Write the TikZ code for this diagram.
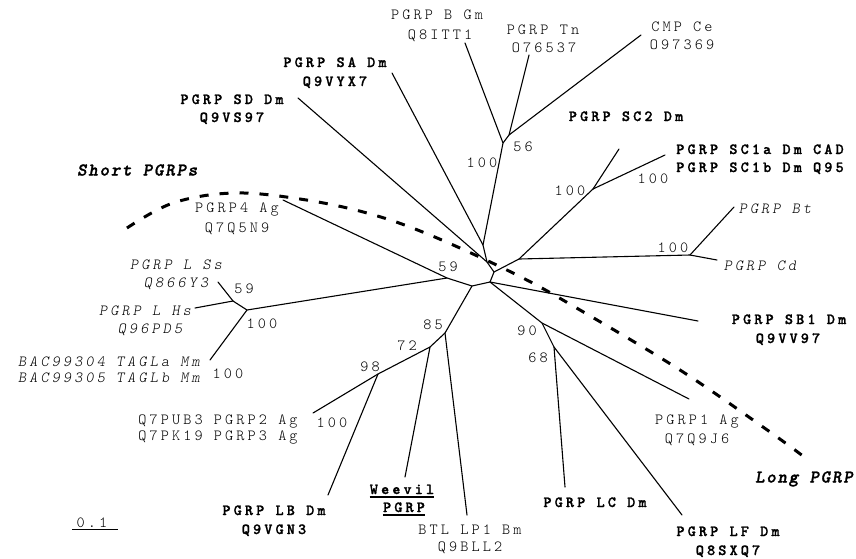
\documentclass[tikz,border=0pt]{standalone}
\usepackage{fontspec}
\newfontfamily\labfont{lmmonolt10}[Extension=.otf, UprightFont=*-regular, BoldFont=*-bold, ItalicFont=*-oblique, BoldItalicFont=*-boldoblique, BoldFeatures={FakeBold=1.2}, LetterSpace=20]
\newfontfamily\grpfont{lmmonolt10}[Extension=.otf, UprightFont=*-regular, BoldFont=*-bold, ItalicFont=*-oblique, BoldItalicFont=*-boldoblique, BoldItalicFeatures={FakeBold=1.5}, LetterSpace=10]
\tikzset{
  br/.style={line width=1.1pt, line cap=round, line join=round},
  lr/.style={anchor=base, inner sep=0pt, font=\labfont\fontsize{15.5}{17}\selectfont},
  lbold/.style={lr, font=\labfont\fontsize{15.5}{17}\selectfont\bfseries},
  lit/.style={lr, font=\labfont\fontsize{15.5}{17}\selectfont\itshape},
  grp/.style={inner sep=0pt, font=\grpfont\fontsize{18}{20}\selectfont\bfseries\itshape},
  sepline/.style={line width=3pt, dash pattern=on 9pt off 11pt},
  uline/.style={line width=1.2pt},
}
\begin{document}
\begin{tikzpicture}[x=1pt,y=-1pt]
\useasboundingbox (0,0) rectangle (856,558);
% leaf ends
\coordinate (lBGm) at (465,43);
\coordinate (lTn) at (529,55);
\coordinate (lCMP) at (641,35);
\coordinate (lSA) at (392,73);
\coordinate (lSD) at (298,98);
\coordinate (lP4) at (283,200);
\coordinate (lSs) at (218,282);
\coordinate (lHs) at (195,308);
\coordinate (lTAG) at (210,360);
\coordinate (lQ7P) at (313,413);
\coordinate (lLB) at (328,495);
\coordinate (lWee) at (405,477);
\coordinate (lBTL) at (467,515);
\coordinate (lLC) at (565,487);
\coordinate (lLF) at (682,515);
\coordinate (lP1) at (689,399);
\coordinate (lSB1) at (698,321);
\coordinate (lCd) at (717,260);
\coordinate (lBt) at (734,207);
\coordinate (lSC2) at (619,149);
\coordinate (lSC1) at (665,155);
% internal vertices
\coordinate (n100t) at (503,143);
\coordinate (n56) at (509,135);
\coordinate (nY) at (483,245);
\coordinate (nX) at (487,262);
\coordinate (nC) at (494,272);
\coordinate (nR) at (519,259);
\coordinate (nSC) at (593,189);
\coordinate (nBC) at (690,255);
\coordinate (nD) at (490,282);
\coordinate (nE) at (472,286);
\coordinate (n59) at (447,278);
\coordinate (nHs100) at (247,310);
\coordinate (nHs59) at (233,301);
\coordinate (n85) at (445,333);
\coordinate (n72) at (430,347);
\coordinate (n98) at (378,374);
\coordinate (n90) at (542,323);
\coordinate (n68) at (554,347);
% branches
\draw[br] (lBGm) -- (n100t) -- (nY);
\draw[br] (n100t) -- (n56) -- (lTn);
\draw[br] (n56) -- (lCMP);
\draw[br] (lSA) -- (nY) -- (nX) -- (nC) -- (nD) -- (nE) -- (n59) -- (lP4);
\draw[br] (lSD) -- (nX);
\draw[br] (nC) -- (nR) -- (nBC) -- (lBt);
\draw[br] (nBC) -- (lCd);
\draw[br] (nR) -- (nSC) -- (lSC2);
\draw[br] (nSC) -- (lSC1);
\draw[br] (nD) -- (lSB1);
\draw[br] (nD) -- (n90) -- (lP1);
\draw[br] (n90) -- (n68) -- (lLC);
\draw[br] (n68) -- (lLF);
\draw[br] (n59) -- (nHs100) -- (nHs59) -- (lSs);
\draw[br] (nHs59) -- (lHs);
\draw[br] (nHs100) -- (lTAG);
\draw[br] (nE) -- (n85) -- (lBTL);
\draw[br] (n85) -- (n72) -- (lWee);
\draw[br] (n72) -- (n98) -- (lQ7P);
\draw[br] (n98) -- (lLB);
% dashed separator
\draw[sepline] plot[smooth, tension=0.6] coordinates {(127,228) (173,203) (233,193) (300,199) (367,213) (430,235) (517,275) (580,310) (680,370) (763,427) (803,456)};
% group labels
\node[grp, anchor=base west] (gshort) at (77,175.5) {Short PGRPs};
\node[grp, anchor=base east] (glong) at (853,482.5) {Long PGRP};
% regular labels
\node[lr] (tBGm1) at (437,19.5) {PGRP B Gm};
\node[lr] (tBGm2) at (440,39.5) {Q8ITT1};
\node[lr] (tTn1) at (543,34) {PGRP Tn};
\node[lr] (tTn2) at (544,52) {O76537};
\node[lr] (tCMP1) at (682,31) {CMP Ce};
\node[lr] (tCMP2) at (682,49) {O97369};
\node[lr] (tP41) at (237,212) {PGRP4 Ag};
\node[lr] (tP42) at (237,232) {Q7Q5N9};
\node[lr] (tBTL1) at (470,534) {BTL LP1 Bm};
\node[lr] (tBTL2) at (470,551) {Q9BLL2};
\node[lr] (tQ7P1) at (218,424) {Q7PUB3 PGRP2 Ag};
\node[lr] (tQ7P2) at (218,440) {Q7PK19 PGRP3 Ag};
\node[lr] (tP11) at (697,424) {PGRP1 Ag};
\node[lr] (tP12) at (697,443) {Q7Q9J6};
% bootstrap values
\node[lr] (b56) at (523,151) {56};
\node[lr] (b100t) at (482,167) {100};
\node[lr] (b100sc) at (570,195) {100};
\node[lr] (b100sc1) at (653,183) {100};
\node[lr] (b100bc) at (673,252) {100};
\node[lr] (b59c) at (448,271) {59};
\node[lr] (b59h) at (244,293) {59};
\node[lr] (b100h) at (262,328) {100};
\node[lr] (b100tag) at (228,378) {100};
\node[lr] (b85) at (433,329) {85};
\node[lr] (b72) at (407,350) {72};
\node[lr] (b98) at (370,371) {98};
\node[lr] (b100q) at (332,427) {100};
\node[lr] (b90) at (527,335) {90};
\node[lr] (b68) at (538,362) {68};
% italic labels
\node[lit] (tSs1) at (176,269) {PGRP L Ss};
\node[lit] (tSs2) at (176,287) {Q866Y3};
\node[lit] (tHs1) at (145,315) {PGRP L Hs};
\node[lit] (tHs2) at (150,333) {Q96PD5};
\node[lit] (tTAG1) at (109,366) {BAC99304 TAGLa Mm};
\node[lit] (tTAG2) at (109,382) {BAC99305 TAGLb Mm};
\node[lit] (tBt) at (775,213) {PGRP Bt};
\node[lit] (tCd) at (760,270) {PGRP Cd};
% bold labels
\node[lbold] (tSA1) at (335,67) {PGRP SA Dm};
\node[lbold] (tSA2) at (335,86) {Q9VYX7};
\node[lbold] (tSD1) at (232,104) {PGRP SD Dm};
\node[lbold] (tSD2) at (232,122) {Q9VS97};
\node[lbold] (tSC2) at (626,121) {PGRP SC2 Dm};
\node[lbold] (tSC1a) at (760,154) {PGRP SC1a Dm CAD};
\node[lbold] (tSC1b) at (760,172) {PGRP SC1b Dm Q95};
\node[lbold] (tSB11) at (789,324) {PGRP SB1 Dm};
\node[lbold] (tSB12) at (788,343) {Q9VV97};
\node[lbold] (tLB1) at (274,515) {PGRP LB Dm};
\node[lbold] (tLB2) at (274,534) {Q9VGN3};
\node[lbold] (tLC) at (595,507) {PGRP LC Dm};
\node[lbold] (tLF1) at (728,536) {PGRP LF Dm};
\node[lbold] (tLF2) at (728,555) {Q8SXQ7};
\node[lbold] (tWee1) at (402,494) {Weevil};
\node[lbold] (tWee2) at (404,512) {PGRP};
\draw[uline] ([yshift=-3pt]tWee1.base west) -- ([yshift=-3pt]tWee1.base east);
\draw[uline] ([yshift=-3pt]tWee2.base west) -- ([yshift=-3pt]tWee2.base east);
% scale bar
\node[lr] (tscale) at (92,527) {0.1};
\coordinate (sbL) at (72,529);
\coordinate (sbR) at (118,529);
\draw[line width=0.9pt] (sbL) -- (sbR);
\end{tikzpicture}
\end{document}
